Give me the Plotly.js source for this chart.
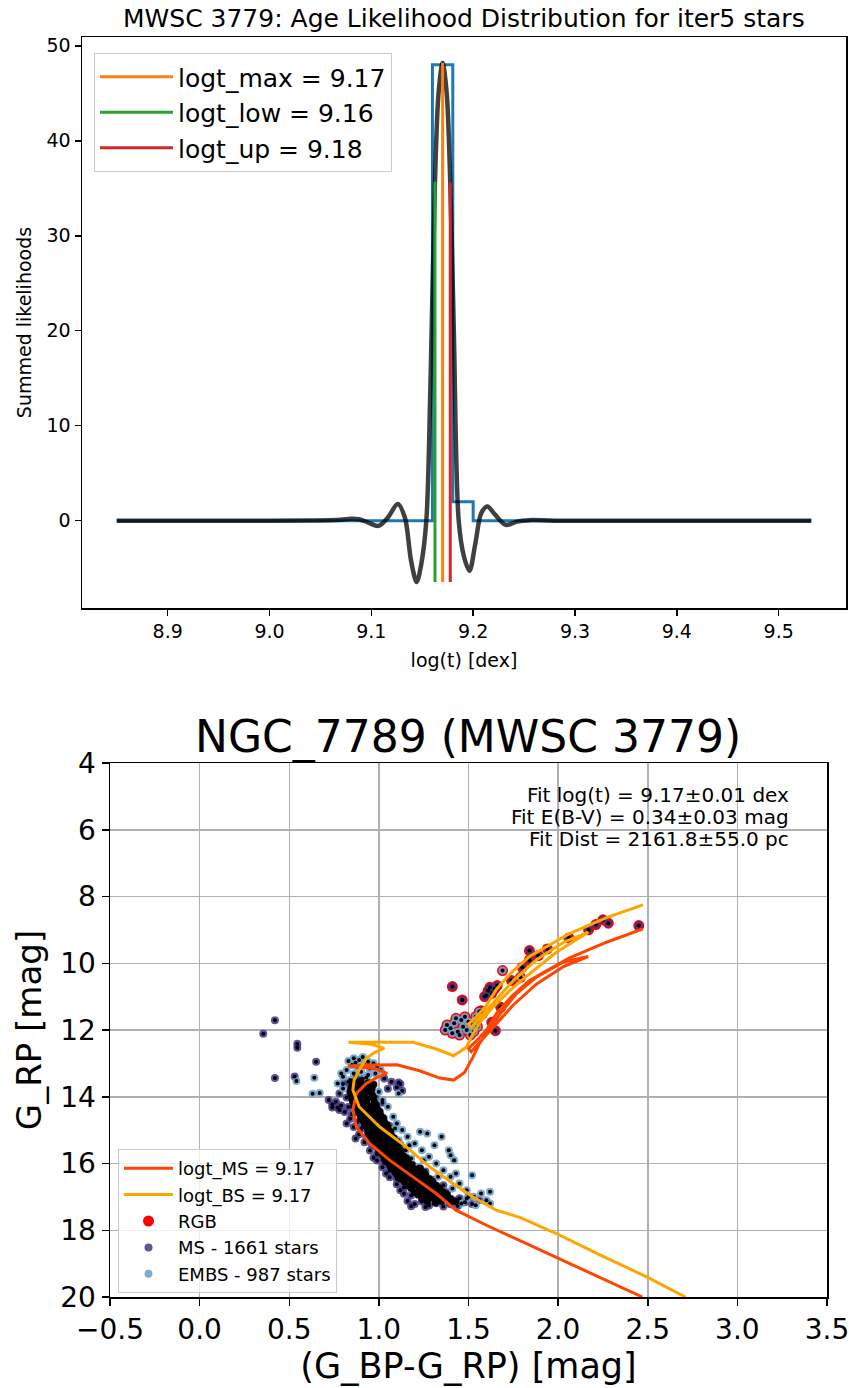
<!DOCTYPE html>
<html><head><meta charset="utf-8">
<script src="https://cdn.plot.ly/plotly-3.0.1.min.js"></script>
<style>body{margin:0;background:#fff}#chart{width:849px;height:1388px}</style>
</head><body><div id="chart"></div>
<script>
// ---------- Top panel data ----------
const histEdges = [8.85, 9.16, 9.18, 9.20, 9.532];
const histCounts = [0, 48, 2.0, 0, 0];

const likeX = [8.850, 9.000, 9.040, 9.070, 9.080, 9.088, 9.097, 9.107, 9.116, 9.126, 9.133, 9.139, 9.1445, 9.149, 9.154, 9.158, 9.1625, 9.166, 9.170, 9.174, 9.1775, 9.181, 9.1858, 9.191, 9.1964, 9.202, 9.208, 9.214, 9.221, 9.232, 9.243, 9.255, 9.280, 9.532];
const likeY = [0, 0, 0.02, 0.1, 0.2, 0.15, -0.2, -0.55, 0.3, 1.75, 0.3, -4.2, -6.47, -4.6, 0, 14, 35.7, 45, 48.2, 45, 35.6, 20, 0, -3.8, -5.27, -2.5, 0.8, 1.5, 0.7, -0.45, -0.1, 0.05, 0, 0];

const refNames = ['logt_max = 9.17', 'logt_low = 9.16', 'logt_up = 9.18'];
const refAges = [9.170, 9.1625, 9.1775];
const refTops = [48.2, 35.7, 35.6];
const refBottom = -6.47;

// ---------- Bottom panel data (colour, magnitude) ----------
const msIso = [[2.47,20.0],[2.23,19.41],[2.01,18.87],[1.76,18.25],[1.60,17.85],[1.43,17.40],[1.32,16.90],[1.19,16.40],[1.06,15.90],[0.948,15.40],[0.874,14.90],[0.855,14.40],[0.874,13.90],[0.93,13.60],[0.99,13.42],[1.045,13.30],[0.99,13.17],[0.90,13.12],[0.827,13.08],[0.967,13.05],[1.10,13.04],[1.227,13.22],[1.34,13.44],[1.417,13.50],[1.478,13.27],[1.524,12.82],[1.56,12.42],[1.617,11.97],[1.69,11.42],[1.766,10.92],[1.878,10.42],[2.027,9.97],[2.168,9.80],[2.03,10.10],[1.88,10.62],[1.75,11.25],[1.64,11.90],[1.56,12.40],[1.515,12.65],[1.50,12.55],[1.54,12.35],[1.60,12.00],[1.654,11.52],[1.74,11.0],[1.84,10.52],[2.064,9.84],[2.27,9.37],[2.473,8.97]];
const bsIso = [[2.71,20.0],[2.50,19.41],[2.23,18.73],[2.01,18.15],[1.79,17.62],[1.655,17.40],[1.524,17.00],[1.413,16.60],[1.283,16.10],[1.153,15.50],[1.004,14.90],[0.89,14.30],[0.855,13.80],[0.862,13.50],[0.89,13.20],[0.93,12.85],[0.98,12.66],[1.03,12.55],[0.96,12.43],[0.83,12.37],[1.00,12.37],[1.19,12.37],[1.32,12.57],[1.417,12.77],[1.487,12.52],[1.524,12.12],[1.571,11.72],[1.636,11.32],[1.73,10.82],[1.84,10.32],[1.99,9.67],[2.168,9.07],[2.03,9.37],[1.88,9.89],[1.75,10.52],[1.64,11.17],[1.56,11.67],[1.515,11.92],[1.50,11.82],[1.54,11.62],[1.60,11.27],[1.654,10.79],[1.74,10.27],[1.84,9.80],[2.064,9.11],[2.27,8.63],[2.473,8.25]];

const msStars = [
[0.80,13.62],[0.84,13.71],[0.88,13.52],[0.92,13.80],[0.95,13.63],[0.78,13.90],[0.82,14.02],[0.86,13.95],[0.90,14.06],[0.94,13.88],[0.98,14.00],[1.03,13.45],[1.07,13.55],[1.10,13.72],[1.05,13.76],[1.12,13.62],[0.87,13.40],[0.91,13.46],[0.83,13.55],[0.96,13.77],
[0.76,14.15],[0.79,14.26],[0.83,14.31],[0.87,14.19],[0.91,14.36],[0.95,14.24],[0.99,14.41],[1.02,14.18],[0.81,14.46],[0.85,14.52],[0.89,14.44],[0.93,14.57],[0.97,14.49],[1.01,14.61],[0.72,14.10],[0.74,14.32],[0.78,14.40],[0.88,14.10],[0.92,14.15],
[0.84,14.66],[0.88,14.76],[0.92,14.71],[0.96,14.82],[1.00,14.74],[1.04,14.86],[0.86,14.91],[0.90,14.97],[0.94,15.01],[0.98,14.94],[1.02,15.06],[1.06,14.88],[0.82,14.80],[0.95,14.65],[0.99,14.88],
[0.89,15.12],[0.93,15.21],[0.97,15.14],[1.01,15.26],[1.05,15.19],[1.09,15.31],[0.92,15.36],[0.96,15.42],[1.00,15.47],[1.04,15.39],[1.08,15.51],[1.12,15.44],[0.87,15.25],[0.99,15.33],[1.03,15.08],
[0.95,15.61],[0.99,15.72],[1.03,15.64],[1.07,15.77],[1.11,15.69],[1.15,15.82],[0.99,15.91],[1.03,15.96],[1.07,15.88],[1.11,16.02],[1.15,15.94],[1.19,16.06],[0.97,15.83],[1.05,15.84],[1.13,15.58],
[1.02,16.11],[1.06,16.22],[1.10,16.14],[1.14,16.27],[1.18,16.19],[1.22,16.31],[1.26,16.24],[1.06,16.41],[1.10,16.46],[1.14,16.38],[1.18,16.52],[1.22,16.44],[1.26,16.56],[1.30,16.49],[1.04,16.30],[1.12,16.33],[1.20,16.36],
[1.10,16.62],[1.14,16.71],[1.18,16.64],[1.22,16.77],[1.26,16.69],[1.30,16.81],[1.34,16.74],[1.38,16.86],[1.14,16.91],[1.18,16.96],[1.22,16.88],[1.26,17.01],[1.30,16.94],[1.34,17.06],[1.38,16.99],[1.42,17.11],[1.12,16.80],[1.20,16.84],[1.28,16.60],[1.36,16.65],
[1.16,17.12],[1.20,17.21],[1.24,17.14],[1.28,17.26],[1.32,17.19],[1.36,17.29],[1.40,17.22],[1.44,17.27],[1.48,17.16],[1.52,17.21],[1.56,17.09],[1.45,17.04],[1.50,17.00],[1.18,17.28],[1.26,17.30],
[0.42,11.71],[0.355,12.11],[0.545,12.41],[0.545,12.53],[0.65,12.95],[0.42,13.44],[0.53,13.39],[0.74,14.23],[0.77,14.33],[1.11,13.57],[1.13,13.82],
[1.41,10.70],[1.465,11.10],[1.60,10.97],[1.61,10.82],[1.645,10.77],[1.66,10.67],[1.74,10.52],[1.84,9.62],[1.89,9.77],[1.84,9.90],[1.80,10.12],[1.94,9.57],[2.06,9.24],[2.17,9.00],[2.21,8.84],[2.25,8.70],[2.28,8.80],[2.45,8.87],[1.65,12.02],[1.63,11.77],[1.68,11.32],[1.57,11.42],[1.62,10.72],[1.59,11.00],[1.63,10.90]
];
// dense main-sequence ridge (read as the black core of the band)
const msCore = [
[0.86,13.56],[0.90,13.53],[0.94,13.58],
[0.85,13.66],[0.895,13.64],[0.93,13.67],[0.97,13.63],
[0.845,13.74],[0.88,13.77],[0.925,13.73],[0.96,13.76],
[0.84,13.86],[0.875,13.83],[0.915,13.87],[0.955,13.84],
[0.845,13.94],[0.885,13.97],[0.92,13.93],[0.965,13.96],
[0.85,14.06],[0.89,14.03],[0.935,14.07],[0.97,14.04],
[0.855,14.14],[0.895,14.17],[0.93,14.13],[0.975,14.16],
[0.86,14.27],[0.905,14.23],[0.94,14.26],[0.985,14.24],
[0.875,14.34],[0.91,14.37],[0.955,14.33],[0.99,14.36],
[0.88,14.46],[0.925,14.43],[0.96,14.47],[1.005,14.44],
[0.895,14.54],[0.93,14.57],[0.975,14.53],[1.01,14.56],
[0.90,14.66],[0.945,14.63],[0.98,14.67],[1.025,14.64],
[0.915,14.74],[0.95,14.77],[0.995,14.73],[1.03,14.76],
[0.92,14.86],[0.965,14.83],[1.00,14.87],[1.045,14.84],
[0.935,14.94],[0.97,14.97],[1.015,14.93],[1.05,14.96],
[0.94,15.06],[0.985,15.03],[1.02,15.07],[1.065,15.04],
[0.955,15.14],[0.99,15.17],[1.035,15.13],[1.07,15.16],
[0.96,15.26],[1.005,15.23],[1.04,15.27],[1.085,15.24],
[0.975,15.34],[1.01,15.37],[1.055,15.33],[1.09,15.36],
[0.98,15.46],[1.025,15.43],[1.06,15.47],[1.105,15.44],
[0.995,15.54],[1.03,15.57],[1.075,15.53],[1.11,15.56],
[1.00,15.66],[1.045,15.63],[1.08,15.67],[1.125,15.64],
[1.02,15.74],[1.055,15.77],[1.10,15.73],[1.135,15.76],
[1.03,15.86],[1.075,15.83],[1.11,15.87],[1.155,15.84],
[1.04,15.94],[1.085,15.97],[1.12,15.93],[1.165,15.96],
[1.06,16.06],[1.105,16.03],[1.14,16.07],[1.185,16.04],
[1.07,16.14],[1.115,16.17],[1.15,16.13],[1.195,16.16],[1.23,16.14],
[1.09,16.26],[1.135,16.23],[1.17,16.27],[1.215,16.24],[1.25,16.26],
[1.10,16.34],[1.145,16.37],[1.18,16.33],[1.225,16.36],[1.26,16.34],
[1.12,16.46],[1.165,16.43],[1.20,16.47],[1.245,16.44],[1.28,16.46],
[1.14,16.54],[1.185,16.57],[1.22,16.53],[1.265,16.56],[1.30,16.54],
[1.16,16.66],[1.205,16.63],[1.24,16.67],[1.285,16.64],[1.32,16.66],
[1.18,16.74],[1.225,16.77],[1.26,16.73],[1.305,16.76],[1.34,16.74],
[1.20,16.86],[1.245,16.83],[1.28,16.87],[1.325,16.84],[1.36,16.86],
[1.22,16.94],[1.265,16.97],[1.30,16.93],[1.345,16.96],[1.38,16.94],
[1.24,17.06],[1.285,17.03],[1.32,17.07],[1.365,17.04],[1.40,17.06],
[1.27,17.14],[1.315,17.17],[1.35,17.13],[1.395,17.16],[1.43,17.14]
];
const embsStars = [
[0.83,12.93],[0.86,12.85],[0.89,12.90],[0.91,12.81],[0.94,12.95],[0.97,13.00],[0.85,13.05],[0.88,13.10],[0.92,13.05],[0.95,13.15],[0.99,13.10],[0.82,13.20],[0.86,13.30],[0.90,13.25],[0.94,13.35],[0.98,13.30],[1.01,13.20],[0.80,13.40],[0.84,13.50],[0.79,13.30],[0.77,13.60],[0.80,13.75],[0.87,12.98],[0.93,13.42],
[0.54,13.53],[0.64,13.43],[0.63,13.91],[0.67,13.89],[1.11,13.90],[1.00,13.85],
[1.02,14.10],[1.05,14.30],[1.08,14.60],[1.10,14.80],[1.13,15.00],[1.16,15.20],[1.20,15.40],[1.23,15.05],[1.27,15.10],[1.35,15.20],[1.24,15.60],[1.28,15.80],[1.32,16.00],[1.36,16.20],[1.40,16.40],[1.43,16.30],[1.45,16.60],[1.49,16.80],[1.53,17.00],[1.57,16.90],[1.60,17.10],[1.62,17.20],[1.42,15.90],[1.39,15.60],[1.31,15.45],[1.40,15.75],[1.52,16.35],[1.62,16.85],
[0.97,14.10],[1.00,14.50],[1.03,14.65],[1.07,15.10],[1.11,15.30],[1.15,15.60],[1.18,15.85],[1.22,16.10],[1.26,16.35],[1.30,16.60],[1.34,16.85],[1.38,17.10],[1.46,17.20],[1.54,17.25],[1.09,14.95],[1.17,15.45],[1.25,15.90],[1.33,16.40],[1.41,16.75],[1.49,17.05],
[1.38,11.85],[1.40,11.95],[1.42,11.80],[1.44,12.05],[1.46,11.70],[1.47,11.90],[1.49,12.00],[1.50,11.75],[1.52,11.85],[1.54,11.60],[1.41,12.10],[1.45,12.15],[1.48,11.60],[1.53,12.05],[1.56,11.45],[1.43,11.65],[1.37,12.00],[1.51,12.15],[1.55,11.90],[1.58,11.50],
[1.79,10.42],[1.69,10.22]
];
const rgbStars = [
[1.38,11.85],[1.40,11.95],[1.42,11.80],[1.44,12.05],[1.46,11.70],[1.47,11.90],[1.49,12.00],[1.50,11.75],[1.52,11.85],[1.54,11.60],[1.41,12.10],[1.45,12.15],[1.48,11.60],[1.53,12.05],[1.56,11.45],[1.43,11.65],[1.37,12.00],[1.51,12.15],[1.55,11.90],[1.58,11.50],
[1.41,10.70],[1.465,11.10],[1.60,10.97],[1.61,10.82],[1.645,10.77],[1.66,10.67],[1.74,10.52],[1.84,9.62],[1.89,9.77],[1.84,9.90],[1.80,10.12],[1.94,9.57],[2.06,9.24],[2.17,9.00],[2.21,8.84],[2.25,8.70],[2.28,8.80],[2.45,8.87],[1.65,12.02],[1.63,11.77],[1.68,11.32],[1.57,11.42],[1.62,10.72],[1.59,11.00],[1.63,10.90],
[1.79,10.42],[1.69,10.22]
];
const isoNames = ['logt_MS = 9.17', 'logt_BS = 9.17'];
const starNames = ['RGB', 'MS - 1661 stars', 'EMBS - 987 stars'];
const fitText = ['Fit log(t) = 9.17\u00b10.01 dex', 'Fit E(B-V) = 0.34\u00b10.03 mag', 'Fit Dist = 2161.8\u00b155.0 pc'];
const cmdTicksX = [-0.5, 0.0, 0.5, 1.0, 1.5, 2.0, 2.5, 3.0, 3.5];
const cmdTicksY = [4, 6, 8, 10, 12, 14, 16, 18, 20];

// ---------- helpers ----------
const W = 849, H = 1388;
const fx = p => p / W, fy = p => 1 - p / H;
const col = a => a.map(d => d[0]), mag = a => a.map(d => d[1]);
const FONT = 'DejaVu Sans, Liberation Sans, sans-serif';

const refColors = ['#ff7f0e', '#2ca02c', '#d62728'];
const traces = [];
traces.push({x: histEdges, y: histCounts, type: 'scatter', mode: 'lines', line: {shape: 'hv', color: '#1f77b4', width: 3}, showlegend: false, xaxis: 'x', yaxis: 'y', hoverinfo: 'skip'});
traces.push({x: likeX, y: likeY, type: 'scatter', mode: 'lines', line: {shape: 'spline', smoothing: 0.9, color: 'rgba(0,0,0,0.75)', width: 4.5}, showlegend: false, xaxis: 'x', yaxis: 'y'});
refAges.forEach((a, i) => {
  traces.push({x: [a, a], y: [refBottom, refTops[i]], type: 'scatter', mode: 'lines', name: refNames[i], line: {color: refColors[i], width: 3}, xaxis: 'x', yaxis: 'y', legend: 'legend'});
});

// bottom panel
const msAll = msStars.concat(msCore);
traces.push({x: col(rgbStars), y: mag(rgbStars), type: 'scatter', mode: 'markers', name: starNames[0], marker: {color: 'red', size: 11}, xaxis: 'x2', yaxis: 'y2', legend: 'legend2', legendrank: 3});
traces.push({x: col(msAll), y: mag(msAll), type: 'scatter', mode: 'markers', name: starNames[1], marker: {color: '#41388a', opacity: 0.85, size: 8}, xaxis: 'x2', yaxis: 'y2', legend: 'legend2', legendrank: 4});
traces.push({x: col(embsStars), y: mag(embsStars), type: 'scatter', mode: 'markers', name: starNames[2], marker: {color: '#6fa2cc', opacity: 0.9, size: 8}, xaxis: 'x2', yaxis: 'y2', legend: 'legend2', legendrank: 5});
const allStars = msStars.concat(embsStars);
traces.push({x: col(allStars), y: mag(allStars), type: 'scatter', mode: 'markers', showlegend: false, marker: {symbol: 'circle', size: 4, color: 'black'}, xaxis: 'x2', yaxis: 'y2', hoverinfo: 'skip'});
traces.push({x: col(msCore), y: mag(msCore), type: 'scatter', mode: 'markers', showlegend: false, marker: {symbol: 'circle', size: 7, color: 'black'}, xaxis: 'x2', yaxis: 'y2', hoverinfo: 'skip'});
traces.push({x: col(msIso), y: mag(msIso), type: 'scatter', mode: 'lines', name: isoNames[0], line: {color: '#ff4500', width: 3}, xaxis: 'x2', yaxis: 'y2', legend: 'legend2', legendrank: 1});
traces.push({x: col(bsIso), y: mag(bsIso), type: 'scatter', mode: 'lines', name: isoNames[1], line: {color: '#ffa500', width: 3}, xaxis: 'x2', yaxis: 'y2', legend: 'legend2', legendrank: 2});

const axTop = {showline: true, linecolor: 'black', linewidth: 1.5, mirror: true, ticks: 'outside', ticklen: 6, tickwidth: 1.5, tickcolor: 'black', showgrid: false, zeroline: false, tickfont: {family: FONT, size: 19, color: 'black'}};
const axBot = {showline: true, linecolor: 'black', linewidth: 1.5, mirror: true, ticks: 'outside', ticklen: 7, tickwidth: 1.5, tickcolor: 'black', showgrid: true, gridcolor: '#b0b0b0', gridwidth: 1.5, zeroline: false, ticklabeloverflow: 'allow', tickfont: {family: FONT, size: 28, color: 'black'}};

const layout = {
  width: W, height: H,
  margin: {l: 0, r: 0, t: 0, b: 0},
  paper_bgcolor: 'white', plot_bgcolor: 'white',
  font: {family: FONT, color: 'black'},
  xaxis: Object.assign({}, axTop, {domain: [fx(82), fx(846)], range: [8.8159, 9.5661], tickvals: [8.9, 9.0, 9.1, 9.2, 9.3, 9.4, 9.5], ticktext: ['8.9', '9.0', '9.1', '9.2', '9.3', '9.4', '9.5'], anchor: 'y', title: {text: 'log(t) [dex]', font: {family: FONT, size: 19}, standoff: 12}}),
  yaxis: Object.assign({}, axTop, {domain: [fy(608), fy(37)], range: [-9.2, 50.93], tickvals: [0, 10, 20, 30, 40, 50], anchor: 'x', title: {text: 'Summed likelihoods', font: {family: FONT, size: 19}, standoff: 10}}),
  xaxis2: Object.assign({}, axBot, {domain: [fx(110), fx(827)], range: [-0.5, 3.50001], tickvals: cmdTicksX, ticktext: cmdTicksX.map(v => (v < 0 ? '\u2212' : '') + Math.abs(v).toFixed(1)), anchor: 'y2', title: {text: '(G_BP-G_RP) [mag]', font: {family: FONT, size: 35}, standoff: 6}}),
  yaxis2: Object.assign({}, axBot, {domain: [fy(1297), fy(763)], range: [20.0001, 4], tickvals: cmdTicksY, anchor: 'x2', title: {text: 'G_RP [mag]', font: {family: FONT, size: 34}, standoff: 8}}),
  legend: {x: fx(94), y: fy(53), xanchor: 'left', yanchor: 'top', bgcolor: 'rgba(255,255,255,0.8)', bordercolor: '#cccccc', borderwidth: 1, font: {family: FONT, size: 25, color: 'black'}, itemwidth: 73},
  legend2: {x: fx(118), y: fy(1149), xanchor: 'left', yanchor: 'top', bgcolor: 'rgba(255,255,255,0.8)', bordercolor: '#cccccc', borderwidth: 1, font: {family: FONT, size: 18, color: 'black'}, itemwidth: 49, traceorder: 'normal'},
  annotations: [
    {text: 'MWSC 3779: Age Likelihood Distribution for iter5 stars', xref: 'paper', yref: 'paper', x: fx(464), y: fy(18), xanchor: 'center', yanchor: 'middle', showarrow: false, font: {family: FONT, size: 25, color: 'black'}},
    {text: 'NGC_7789 (MWSC 3779)', xref: 'paper', yref: 'paper', x: fx(468), y: fy(737), xanchor: 'center', yanchor: 'middle', showarrow: false, font: {family: FONT, size: 44, color: 'black'}},
  ].concat(fitText.map((t, i) => ({text: t, xref: 'paper', yref: 'paper', x: fx(791), y: fy(795 + 22 * i), xanchor: 'right', yanchor: 'middle', showarrow: false, font: {family: FONT, size: 20, color: 'black'}})))
};

Plotly.newPlot('chart', traces, layout, {staticPlot: true, displayModeBar: false});
</script></body></html>
